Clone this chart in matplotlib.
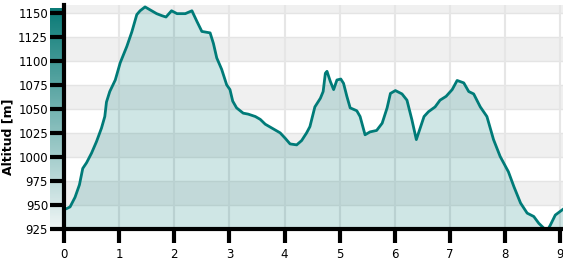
import numpy as np
import matplotlib
matplotlib.use("Agg")
import matplotlib.pyplot as plt
from matplotlib.colors import LinearSegmentedColormap

# distance [km] and altitude [m]
dist = [0.00, 0.04, 0.11, 0.20, 0.28, 0.34, 0.41, 0.50, 0.59, 0.68, 0.74, 0.77,
        0.83, 0.93, 1.02, 1.14, 1.23, 1.32, 1.38, 1.47, 1.56, 1.68, 1.77, 1.85,
        1.95, 2.05, 2.20, 2.32, 2.41, 2.50, 2.65, 2.71, 2.77, 2.86, 2.95, 3.01,
        3.06, 3.13, 3.25, 3.34, 3.47, 3.56, 3.65, 3.80, 3.92, 4.01, 4.10, 4.22,
        4.31, 4.40, 4.46, 4.55, 4.65, 4.70, 4.74, 4.77, 4.83, 4.89, 4.95, 5.02,
        5.07, 5.13, 5.19, 5.31, 5.37, 5.46, 5.55, 5.67, 5.77, 5.86, 5.92, 6.01,
        6.13, 6.22, 6.31, 6.39, 6.46, 6.53, 6.61, 6.73, 6.82, 6.93, 7.04, 7.13,
        7.25, 7.34, 7.43, 7.55, 7.67, 7.79, 7.91, 8.06, 8.16, 8.28, 8.40, 8.52,
        8.61, 8.70, 8.76, 8.82, 8.91, 9.05]
alt = [946, 946, 948, 958, 971, 988, 994, 1004, 1016, 1030, 1042, 1057,
       1068, 1080, 1098, 1115, 1130, 1148, 1152, 1156, 1153, 1149, 1147, 1145.5,
       1152, 1149, 1149, 1152, 1141, 1130.5, 1129, 1118, 1103, 1091, 1075, 1070,
       1058, 1051, 1045.5, 1044.5, 1042, 1039, 1034, 1029, 1025, 1019.5, 1013.5, 1012.5,
       1017, 1025, 1031.5, 1052, 1061, 1068, 1087, 1089, 1078.5, 1070, 1080, 1081,
       1076.5, 1063, 1051, 1048, 1042, 1023, 1026, 1027.5, 1035, 1051, 1066, 1069,
       1065.5, 1059, 1038.5, 1018, 1030, 1042, 1047, 1052, 1059, 1063, 1070, 1079.5,
       1077, 1068, 1065.5, 1052, 1042, 1018, 1000.5, 984.5, 969, 952, 941.5, 938,
       931, 926, 923, 929, 939.5, 945.5]

yticks = [925, 950, 975, 1000, 1025, 1050, 1075, 1100, 1125, 1150]
xticks = list(range(10))

teal = "#007b78"
W, H = 563, 264
fig = plt.figure(figsize=(W / 100, H / 100), dpi=100)
ax = fig.add_axes([64 / W, 35 / H, (W - 64) / W, 224 / H])

ax.set_xlim(0, 9.05)
ax.set_ylim(925, 1158)

# alternating background bands
for lo in [950, 1000, 1050, 1100, 1150]:
    ax.axhspan(lo, lo + 25, color="#f0f0f0", lw=0, zorder=0)
for y in yticks:
    ax.axhline(y, color="#e4e4e4", lw=1, zorder=0.5)
for x in xticks[1:]:
    ax.axvline(x, color="#e6e6e6", lw=1.5, zorder=0.5)

ax.fill_between(dist, alt, 900, color=teal, alpha=0.19, lw=0, zorder=1)
ax.plot(dist, alt, color=teal, lw=2.0, zorder=2, solid_joinstyle="round")

ax.set_xticks(xticks)
ax.set_yticks(yticks)
ax.tick_params(axis="both", length=10, width=3, color="black", labelsize=8.5)
ax.tick_params(axis="y", pad=1.5)
ax.tick_params(axis="x", pad=4)
for s in ["top", "right"]:
    ax.spines[s].set_visible(False)
for s in ["left", "bottom"]:
    ax.spines[s].set_linewidth(3)
ax.set_ylabel("Altitud [m]", fontsize=9, fontweight="bold")
ax.yaxis.set_label_coords(-50 / (W - 64), 0.41)

# gradient strip next to the y axis
cax = fig.add_axes([50 / W, 35 / H, 13 / W, 221 / H], zorder=-1)
cmap = LinearSegmentedColormap.from_list("g", ["#eef5f5", "#0b7b77"])
cax.imshow(np.linspace(0, 1, 100).reshape(-1, 1), cmap=cmap, aspect="auto",
           origin="lower")
cax.axis("off")

fig.savefig("out.png", dpi=100)
